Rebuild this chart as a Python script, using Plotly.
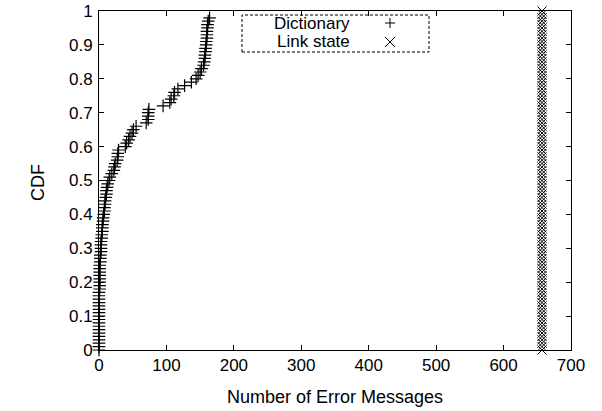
import plotly.graph_objects as go

# Dictionary: sorted error-message counts (CDF y = i/100)
dict_x = ([0] * 18 + [1] * 8 +
          [2, 2, 2, 3, 3, 3, 3, 4,
           4, 5, 5, 5, 6, 6,
           7, 8, 8, 9,
           9, 10,
           11, 11, 12,
           13, 15, 16, 19,
           22, 23, 24,
           27, 28, 28, 29,
           39, 41, 44, 46, 49, 51, 55, 70,
           73, 73, 73, 74,
           95, 105, 107, 111, 112, 117, 127, 137, 144,
           147, 150, 152,
           155, 156, 157, 157, 158, 158, 159, 159, 160, 160, 160, 161, 161, 162, 164])
dict_y = [i / 100 for i in range(len(dict_x))]

# Link state: constant count
link_value = 657
link_n = 101
link_x = [link_value] * link_n
link_y = [i / 100 for i in range(link_n)]

x_ticks = [0, 100, 200, 300, 400, 500, 600, 700]
y_ticks = [0, 0.1, 0.2, 0.3, 0.4, 0.5, 0.6, 0.7, 0.8, 0.9, 1]
y_tick_labels = ["0", "0.1", "0.2", "0.3", "0.4", "0.5", "0.6", "0.7", "0.8", "0.9", "1"]

FONT = "Liberation Sans, Arial, sans-serif"
TICK_SIZE = 17
TITLE_SIZE = 18
LEG_SIZE = 17

fig = go.Figure()
fig.add_trace(go.Scatter(x=dict_x, y=dict_y, mode="markers", name="Dictionary",
                         marker=dict(symbol="cross-thin", size=9, color="black",
                                     line=dict(width=1.2, color="black")),
                         cliponaxis=False, showlegend=False))
fig.add_trace(go.Scatter(x=link_x, y=link_y, mode="markers", name="Link state",
                         marker=dict(symbol="x-thin", size=9, color="black",
                                     line=dict(width=1, color="black")),
                         cliponaxis=False, showlegend=False))

L, R, T, B = 99, 31, 11, 61
W, H = 602, 411
pw, ph = W - L - R, H - T - B

def px(x):
    return (x - L) / pw

def py(y):
    return (H - B - y) / ph

axis_common = dict(showline=True, linecolor="black", linewidth=1, mirror="ticks",
                   ticks="inside", ticklen=5, tickcolor="black", showgrid=False,
                   zeroline=False, automargin=False,
                   tickfont=dict(family=FONT, size=TICK_SIZE, color="black"))

fig.update_xaxes(range=[0, 700], tickvals=x_ticks, **axis_common)
fig.update_yaxes(range=[0, 1], tickvals=y_ticks, ticktext=y_tick_labels, ticklabelstandoff=2, **axis_common)

# Axis titles
fig.add_annotation(xref="paper", yref="paper", x=px(335), y=py(397), text="Number of Error Messages",
                   showarrow=False, xanchor="center", yanchor="middle",
                   font=dict(family=FONT, size=TITLE_SIZE, color="black"))
fig.add_annotation(xref="paper", yref="paper", x=px(38), y=py(183), text="CDF", textangle=-90,
                   showarrow=False, xanchor="center", yanchor="middle",
                   font=dict(family=FONT, size=TITLE_SIZE, color="black"))

# Legend box (dashed) drawn manually, gnuplot style
fig.add_shape(type="rect", xref="paper", yref="paper",
              x0=px(242), x1=px(429), y0=py(52), y1=py(15),
              line=dict(color="black", width=1, dash="3px,2px"), fillcolor="white", layer="below")
legend_rows = [("Dictionary", "plus", 23), ("Link state", "cross", 42)]
for label, sym, ypx in legend_rows:
    fig.add_annotation(xref="paper", yref="paper", x=px(352), y=py(ypx), text=label,
                       showarrow=False, xanchor="right", yanchor="middle",
                       font=dict(family=FONT, size=LEG_SIZE, color="black"))
    cx, h = 390, 5
    if sym == "plus":
        segs = [(cx - h, ypx, cx + h, ypx), (cx, ypx - h, cx, ypx + h)]
    else:
        segs = [(cx - h, ypx - h, cx + h, ypx + h), (cx - h, ypx + h, cx + h, ypx - h)]
    for x0, y0, x1, y1 in segs:
        fig.add_shape(type="line", xref="paper", yref="paper",
                      x0=px(x0), y0=py(y0), x1=px(x1), y1=py(y1),
                      line=dict(color="black", width=1))

fig.update_layout(width=W, height=H, margin=dict(l=L, r=R, t=T, b=B),
                  template="none",
                  plot_bgcolor="white", paper_bgcolor="white", showlegend=False,
                  font=dict(family=FONT, size=TICK_SIZE, color="black"))

fig.write_html("out.html")
